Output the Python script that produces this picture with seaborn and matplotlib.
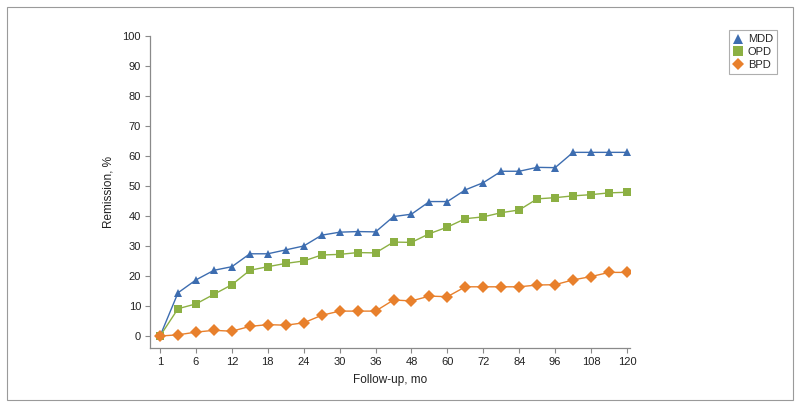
import numpy as np
import pandas as pd
import matplotlib.pyplot as plt
import matplotlib.patches as mpatches
import seaborn as sns

# follow-up months (points are equally spaced on the axis)
MONTHS = [1, 3, 6, 9, 12, 15, 18, 21, 24, 27, 30, 33, 36, 42, 48, 54, 60,
          66, 72, 78, 84, 90, 96, 102, 108, 114, 120]
TICK_MONTHS = [1, 6, 12, 18, 24, 30, 36, 48, 60, 72, 84, 96, 108, 120]

MDD = [0, 14.4, 18.7, 21.9, 23.1, 27.4, 27.4, 28.7, 30.0, 33.6, 34.6, 34.8, 34.7,
       39.8, 40.6, 44.8, 44.8, 48.7, 51.1, 54.9, 54.9, 56.2, 56.1, 61.2, 61.2, 61.2, 61.2]
OPD = [0, 9.1, 10.7, 13.9, 17.1, 21.9, 23.1, 24.2, 25.0, 27.0, 27.2, 27.8, 27.7,
       31.3, 31.2, 34.1, 36.3, 39.1, 39.7, 41.1, 42.0, 45.7, 46.1, 46.7, 47.1, 47.7, 47.9]
BPD = [0, 0.4, 1.3, 1.9, 1.6, 3.2, 3.8, 3.6, 4.4, 6.9, 8.3, 8.3, 8.3,
       12.0, 11.7, 13.3, 13.1, 16.4, 16.4, 16.4, 16.4, 17.0, 17.1, 18.7, 19.8, 21.2, 21.2]

GROUPS = ["MDD", "OPD", "BPD"]
COLORS = {"MDD": "#3d6db0", "OPD": "#8cb043", "BPD": "#e8802c"}
MARKERS = {"MDD": "^", "OPD": "s", "BPD": "D"}

rows = []
for name, vals in zip(GROUPS, [MDD, OPD, BPD]):
    for i, (m, v) in enumerate(zip(MONTHS, vals)):
        rows.append({"pos": i, "month": m, "value": v, "group": name})
df = pd.DataFrame(rows)

sns.set_style("white")
plt.rcParams["font.family"] = ["Liberation Sans Narrow", "Liberation Sans", "DejaVu Sans"]

fig = plt.figure(figsize=(8, 4.08), dpi=100)
ax = fig.add_axes([0.1875, 0.147, 0.6, 0.765])

# outer frame
fig.patches.append(mpatches.Rectangle((0.009, 0.019), 0.982, 0.963, transform=fig.transFigure,
                                      fill=False, edgecolor="#9a9a9a", linewidth=0.8))

sns.lineplot(data=df, x="pos", y="value", hue="group", style="group",
             palette=COLORS, markers=MARKERS, dashes=False, hue_order=GROUPS,
             style_order=GROUPS, linewidth=1.0, markersize=6.2, markeredgewidth=0,
             ax=ax, legend=False)

ax.set_xlim(-0.56, 26.17)
ax.set_ylim(-4, 100)
ax.set_yticks(range(0, 101, 10))
tick_pos = [MONTHS.index(m) for m in TICK_MONTHS]
ax.set_xticks(tick_pos)
ax.set_xticklabels([str(m) for m in TICK_MONTHS])

for side in ["top", "right"]:
    ax.spines[side].set_visible(False)
for side in ["left", "bottom"]:
    ax.spines[side].set_color("#8a8a8a")
    ax.spines[side].set_linewidth(0.9)
ax.tick_params(axis="both", which="major", bottom=True, left=True, length=3.5, width=0.8,
               color="#8a8a8a", labelsize=8, labelcolor="#222222", direction="out", pad=3)

ax.set_xlabel("Follow-up, mo", fontsize=8.5, color="#222222", labelpad=5)
ax.set_ylabel("Remission, %", fontsize=8.5, color="#222222", labelpad=6)

handles = [plt.Line2D([], [], linestyle="none", marker=MARKERS[g], color=COLORS[g],
                      markersize=6.5, markeredgewidth=0) for g in GROUPS]
leg = fig.legend(handles, GROUPS, loc="upper left", bbox_to_anchor=(0.904, 0.94),
                 frameon=True, fontsize=8, handlelength=0.8, handletextpad=0.5,
                 borderpad=0.4, labelspacing=0.25, fancybox=False)
leg.get_frame().set_edgecolor("#9a9a9a")
leg.get_frame().set_linewidth(0.8)

fig.savefig("out.png", dpi=100)
